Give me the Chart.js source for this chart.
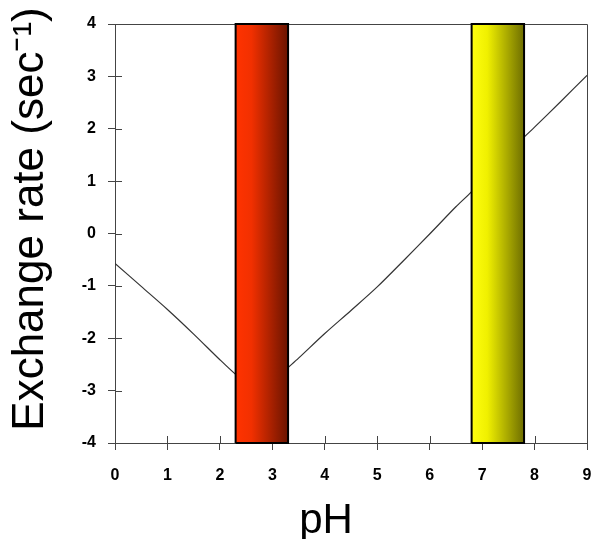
<!DOCTYPE html>
<html>
<head>
<meta charset="utf-8">
<script src="https://cdn.jsdelivr.net/npm/chart.js@4/dist/chart.umd.min.js"></script>
<style>
  html, body { margin: 0; padding: 0; background: #fff; }
</style>
</head>
<body>
<canvas id="chart" width="593" height="539"></canvas>
<script>
// curve (pH -> log exchange rate)
const phValues   = [0, 0.5, 1.0, 1.5, 2.0, 2.3, 2.5, 2.75, 3.0, 3.3, 3.5, 4.0, 4.5, 5.0, 5.5, 6.0, 6.5, 6.8, 7.0, 7.5, 7.8, 8.0, 8.5, 9.0];
const rateValues = [-0.57, -1.01, -1.45, -1.92, -2.41, -2.69, -2.84, -2.92, -2.83, -2.56, -2.38, -1.91, -1.47, -1.02, -0.52, -0.01, 0.51, 0.80, 1.04, 1.54, 1.84, 2.03, 2.52, 3.02];

// shaded pH bands
const redBand = [2.3, 3.3];
const yellowBand = [6.8, 7.8];

const xTicks = [0, 1, 2, 3, 4, 5, 6, 7, 8, 9];
const yTicks = [-4, -3, -2, -1, 0, 1, 2, 3, 4];
const yRange = [-4, 4];

const xTitle = 'pH';
const yTitle = 'Exchange rate (sec\u207B\u00B9)';

const axisColor = '#444';
const font = "Arial, 'Liberation Sans', sans-serif";

function bandGradient(band, stops) {
    return (ctx) => {
        const chart = ctx.chart;
        const xs = chart.scales.x;
        if (!chart.chartArea || !xs) return stops[0][1];
        const g = chart.ctx.createLinearGradient(xs.getPixelForValue(band[0]), 0, xs.getPixelForValue(band[1]), 0);
        stops.forEach(([o, c]) => g.addColorStop(o, c));
        return g;
    };
}

function bandFill(band, stops) {
    return {
        data: [{ x: band[0], y: yRange[1] }, { x: band[1], y: yRange[1] }],
        showLine: true,
        pointRadius: 0,
        borderWidth: 0,
        fill: { value: yRange[0] },
        backgroundColor: bandGradient(band, stops),
        order: 1
    };
}

function bandOutline(band) {
    return {
        data: [
            { x: band[0], y: yRange[0] }, { x: band[0], y: yRange[1] },
            { x: band[1], y: yRange[1] }, { x: band[1], y: yRange[0] },
            { x: band[0], y: yRange[0] }
        ],
        showLine: true,
        pointRadius: 0,
        borderColor: '#000',
        borderWidth: 2,
        fill: false,
        clip: false,
        order: 0
    };
}

// top/right frame lines and tick marks pointing into the plot
const framePlugin = {
    id: 'frame',
    beforeDatasetsDraw(chart) {
        const { ctx, chartArea: a, scales } = chart;
        ctx.save();
        ctx.strokeStyle = axisColor;
        ctx.lineWidth = 1;
        ctx.beginPath();
        ctx.moveTo(a.left, a.top + 0.5);
        ctx.lineTo(a.right + 0.5, a.top + 0.5);
        ctx.lineTo(a.right + 0.5, a.bottom);
        xTicks.forEach(v => {
            const px = Math.round(scales.x.getPixelForValue(v)) + 0.5;
            ctx.moveTo(px, a.bottom);
            ctx.lineTo(px, a.bottom - 7);
        });
        yTicks.forEach(v => {
            const py = Math.round(scales.y.getPixelForValue(v)) + 0.5;
            ctx.moveTo(a.left, py);
            ctx.lineTo(a.left + 7, py);
        });
        ctx.stroke();
        ctx.restore();
    }
};

// axis titles, placed a bit off-centre like the original
const titlePlugin = {
    id: 'axisTitles',
    afterDraw(chart) {
        const { ctx, chartArea: a } = chart;
        ctx.save();
        ctx.fillStyle = '#000';
        ctx.textAlign = 'center';
        ctx.textBaseline = 'alphabetic';
        ctx.font = `42px ${font}`;
        ctx.fillText(xTitle, a.left + 211, a.bottom + 90);
        ctx.translate(43, a.top + 195);
        ctx.rotate(-Math.PI / 2);
        ctx.font = `44px ${font}`;
        ctx.fillText(yTitle, 0, 0);
        ctx.restore();
    }
};

new Chart(document.getElementById('chart'), {
    type: 'scatter',
    data: {
        datasets: [
            bandOutline(redBand),
            bandOutline(yellowBand),
            bandFill(redBand, [[0, '#ff3300'], [0.3, '#f23000'], [1, '#6a1400']]),
            bandFill(yellowBand, [[0, '#ffff10'], [0.3, '#f0f000'], [1, '#6e6e00']]),
            {
                data: phValues.map((x, i) => ({ x, y: rateValues[i] })),
                showLine: true,
                pointRadius: 0,
                borderColor: '#333',
                borderWidth: 1.2,
                tension: 0.3,
                fill: false,
                order: 2
            }
        ]
    },
    options: {
        responsive: false,
        animation: false,
        devicePixelRatio: 1,
        layout: { padding: { left: 0, right: 6, top: 24, bottom: 0 } },
        plugins: {
            legend: { display: false },
            tooltip: { enabled: false }
        },
        scales: {
            x: {
                type: 'linear',
                min: 0,
                max: 9,
                afterBuildTicks: s => { s.ticks = xTicks.map(v => ({ value: v })); },
                afterFit: s => { s.height = 96; s.paddingLeft = 0; s.paddingRight = 0; },
                grid: { drawOnChartArea: false, tickLength: 7, color: axisColor },
                border: { color: axisColor },
                ticks: { color: '#000', padding: 16, font: { family: font, size: 16, weight: 'bold' } }
            },
            y: {
                min: yRange[0],
                max: yRange[1],
                afterBuildTicks: s => { s.ticks = yTicks.map(v => ({ value: v })); },
                afterFit: s => { s.width = 115; s.paddingTop = 0; s.paddingBottom = 0; },
                grid: { drawOnChartArea: false, tickLength: 7, color: axisColor },
                border: { color: axisColor },
                ticks: { color: '#000', padding: 12, font: { family: font, size: 16, weight: 'bold' } }
            }
        }
    },
    plugins: [framePlugin, titlePlugin]
});
</script>
</body>
</html>
